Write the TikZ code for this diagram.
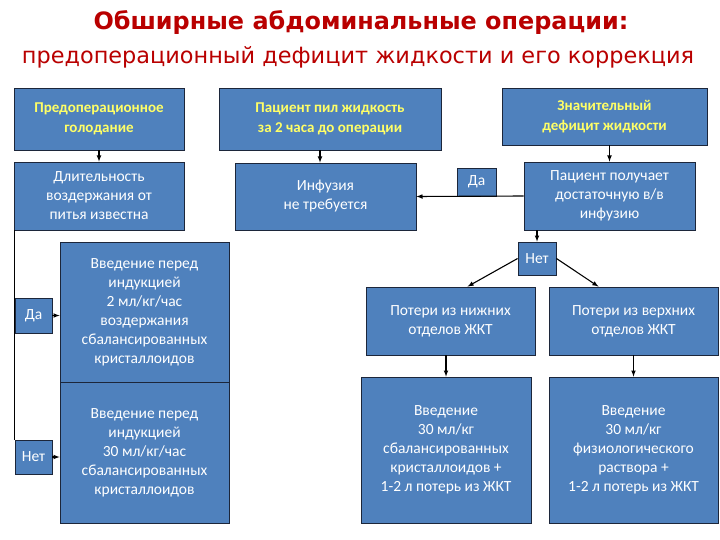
\documentclass[tikz,border=0pt]{standalone}
\usepackage{fontspec}
\setmainfont{Carlito}
\newfontfamily\titlefont{DejaVu Sans}
\usetikzlibrary{calc}

\definecolor{boxblue}{RGB}{79,129,189}
\definecolor{boxline}{RGB}{28,38,58}
\definecolor{headyellow}{RGB}{255,255,102}
\definecolor{titlered}{RGB}{185,0,0}

\begin{document}
\begin{tikzpicture}[x=1pt, y=-1pt,
    box/.style={draw=boxline, fill=boxblue, line width=0.8pt, text=white,
        align=center, inner sep=2pt, font=\fontsize{15.5}{19}\selectfont},
    headbox/.style={box, text=headyellow, font=\bfseries\fontsize{15}{20}\selectfont},
    tag/.style={box},
    arr/.style={-latex, line width=1.1pt},
    link/.style={line width=1.1pt}]
    \fill[white] (0,0) rectangle (720,540);
    \useasboundingbox (0,0) rectangle (720,540);

    % Title
    \node[text=titlered, font=\titlefont\bfseries\fontsize{23.9}{28}\selectfont] (title) at (361,23)
        {Обширные абдоминальные операции:};
    \node[text=titlered, font=\titlefont\fontsize{22.4}{26}\selectfont] (subtitle) at (358,57)
        {предоперационный дефицит жидкости и его коррекция};

    % Top row
    \node[headbox, minimum width=170, minimum height=62] (fasting) at (99,119)
        {Предоперационное\\голодание};
    \node[headbox, minimum width=222, minimum height=62] (drank) at (330,119)
        {Пациент пил жидкость\\за 2 часа до операции};
    \node[headbox, minimum width=205, minimum height=57] (deficit) at (604.5,116.5)
        {Значительный\\дефицит жидкости};

    % Second row
    \node[box, minimum width=170, minimum height=68] (known) at (99,196)
        {Длительность\\воздержания от\\питья известна};
    \node[box, minimum width=181, minimum height=67] (noinf) at (325.5,196.5)
        {Инфузия\\не требуется};
    \node[box, minimum width=171, minimum height=68] (gets) at (609.5,196)
        {Пациент получает\\достаточную в/в\\инфузию};
    \node[tag, minimum width=39, minimum height=28] (yesR) at (476.5,182) {Да};
    \node[tag, minimum width=38, minimum height=33] (noR) at (537,258.5) {Нет};

    % Left column
    \node[box, minimum width=169, minimum height=140] (slow) at (144.5,312)
        {Введение перед\\индукцией\\2 мл/кг/час\\воздержания\\сбалансированных\\кристаллоидов};
    \node[box, minimum width=169, minimum height=141] (fast) at (144.5,452.5)
        {Введение перед\\индукцией\\30 мл/кг/час\\сбалансированных\\кристаллоидов};
    \node[tag, minimum width=37, minimum height=35] (yesL) at (33.5,315.5) {Да};
    \node[tag, minimum width=37, minimum height=34] (noL) at (33.5,457) {Нет};

    % Right part
    \node[box, minimum width=169, minimum height=68] (lower) at (450.5,321)
        {Потери из нижних\\отделов ЖКТ};
    \node[box, minimum width=169, minimum height=68] (upper) at (633.5,321)
        {Потери из верхних\\отделов ЖКТ};
    \node[box, minimum width=170, minimum height=146] (lowerfix) at (446,450)
        {Введение\\30 мл/кг\\сбалансированных\\кристаллоидов +\\1-2 л потерь из ЖКТ};
    \node[box, minimum width=169, minimum height=146] (upperfix) at (633.5,450)
        {Введение\\30 мл/кг\\физиологического\\раствора +\\1-2 л потерь из ЖКТ};

    % Connectors
    \draw[arr] (fasting) -- (known);
    \draw[arr] ($(drank.south)+(-10,0)$) -- (noinf.north -| {$(drank.south)+(-10,0)$});
    \draw[arr] (deficit.south -| gets.north) -- (gets.north);
    \draw[arr] (gets.west) -- (noinf.east);
    \draw[arr] (gets.south -| noR.north) -- (noR.north);
    \draw[arr] (noR.west) -- ($(lower.north)+(17,0)$);
    \draw[arr] (noR.east) -- ($(upper.north)+(-35,0)$);
    \draw[arr] (lower.south -| lowerfix.north) -- (lowerfix.north);
    \draw[arr] (upper.south -| upperfix.north) -- (upperfix.north);
    \draw[link] (noL.north west |- known.south) -- (noL.north west);
    \draw[arr] (yesL.east) -- (slow.west |- yesL.east);
    \draw[arr] (noL.east) -- (fast.west |- noL.east);
\end{tikzpicture}
\end{document}
